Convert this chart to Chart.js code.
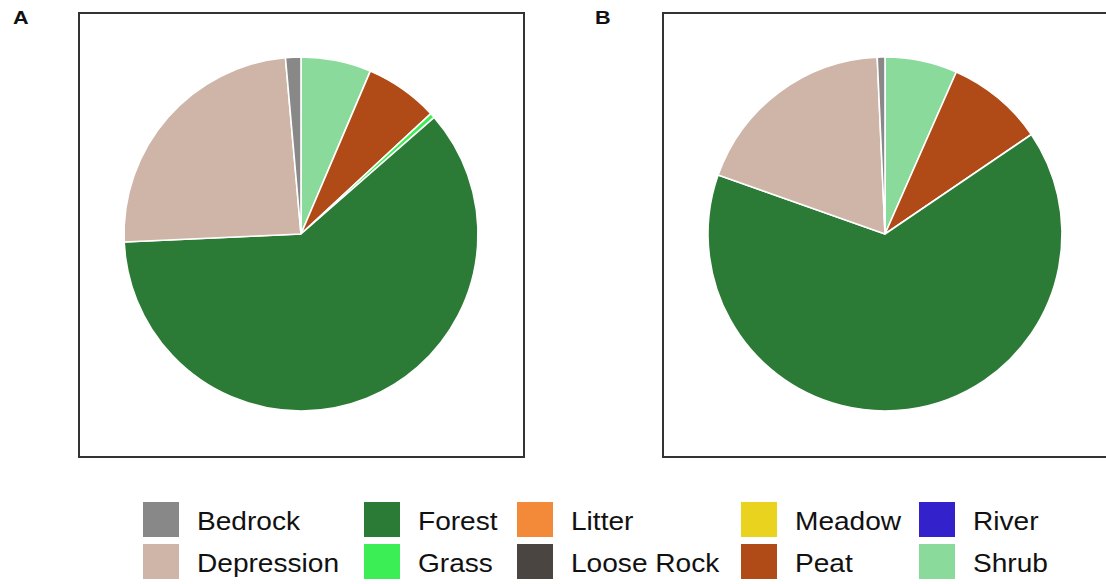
<!DOCTYPE html>
<html>
<head>
<meta charset="utf-8">
<script src="https://cdn.jsdelivr.net/npm/chart.js@4/dist/chart.umd.min.js"></script>
<style>
  html, body { margin: 0; padding: 0; background: #fff; }
  body { width: 1106px; height: 584px; position: relative; overflow: hidden;
         font-family: "Liberation Sans", Arial, sans-serif; }
  .panel { position: absolute; top: 12px; width: 447px; height: 446px;
           border: 2px solid #333; box-sizing: border-box; }
  .tag { position: absolute; top: 8px; font-weight: bold; font-size: 18px; color: #111;
         transform: scaleX(1.2); transform-origin: left top; }
  canvas.pie { position: absolute; top: 34px; }
  .key { position: absolute; width: 36px; height: 35px; }
  .lab { position: absolute; font-size: 26px; color: #111; line-height: 30px; white-space: nowrap;
         transform: scaleX(1.08); transform-origin: left center; }
</style>
</head>
<body>
<div class="panel" style="left:78px"></div>
<div class="panel" style="left:662px; width:460px"></div>
<div class="tag" style="left:13px">A</div>
<div class="tag" style="left:595px">B</div>
<canvas id="pieA" class="pie" width="400" height="400" style="left:101px"></canvas>
<canvas id="pieB" class="pie" width="400" height="400" style="left:685px"></canvas>
<div id="legend"></div>
<script>
// Land-cover classes (alphabetical, as listed in the legend)
const categories = ['Bedrock', 'Depression', 'Forest', 'Grass', 'Litter',
                    'Loose Rock', 'Meadow', 'Peat', 'River', 'Shrub'];
// Share of each class (%) for the two sites
const siteA = [1.4, 24.3, 60.7, 0.45, 0, 0, 0, 6.7, 0, 6.4];
const siteB = [0.7, 18.9, 64.9, 0, 0, 0, 0, 8.9, 0, 6.6];
const classColors = ['#888888', '#CFB5A8', '#2B7B37', '#3BEE55', '#F28A3A',
                     '#4A4541', '#E9D31F', '#B04A17', '#3322CC', '#8ADB9B'];

// Slices run clockwise from 12 o'clock in reverse alphabetical order
function makePie(id, values) {
  new Chart(document.getElementById(id), {
    type: 'pie',
    data: {
      labels: categories.slice().reverse(),
      datasets: [{
        data: values.slice().reverse(),
        backgroundColor: classColors.slice().reverse(),
        borderColor: '#ffffff',
        borderWidth: 1.6
      }]
    },
    options: {
      responsive: false,
      animation: false,
      layout: { padding: 22.2 },
      plugins: { legend: { display: false }, tooltip: { enabled: false } }
    }
  });
}
makePie('pieA', siteA);
makePie('pieB', siteB);

// Two-row legend filled column by column
const legend = document.getElementById('legend');
const colX = [143, 364, 517, 741, 919];
const rowY = [502, 544];
categories.forEach((name, i) => {
  const col = Math.floor(i / 2), row = i % 2;
  const key = document.createElement('div');
  key.className = 'key';
  key.style.left = colX[col] + 'px';
  key.style.top = rowY[row] + 'px';
  key.style.background = classColors[i];
  legend.appendChild(key);
  const lab = document.createElement('div');
  lab.className = 'lab';
  lab.textContent = name;
  lab.style.left = (colX[col] + 54) + 'px';
  lab.style.top = (rowY[row] + 4) + 'px';
  legend.appendChild(lab);
});
</script>
</body>
</html>
